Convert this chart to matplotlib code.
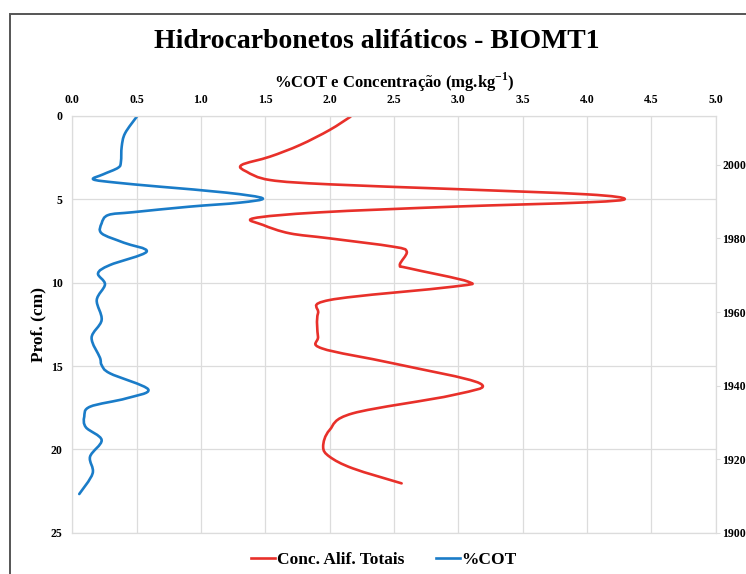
import numpy as np
import matplotlib.pyplot as plt
from matplotlib.patches import Rectangle, PathPatch
from matplotlib.path import Path
from matplotlib.lines import Line2D

plt.rcParams['font.family'] = ['Liberation Serif', 'DejaVu Serif']
plt.rcParams['font.weight'] = 'bold'
plt.rcParams['axes.labelweight'] = 'bold'
plt.rcParams['mathtext.fontset'] = 'custom'
plt.rcParams['mathtext.rm'] = 'Liberation Serif:bold'
plt.rcParams['mathtext.bf'] = 'Liberation Serif:bold'

# depth profile (cm) and %COT
cot_depth = [0.0, 1.04, 1.84, 2.74, 3.1, 3.5, 3.8, 4.0, 4.24, 4.6, 4.94, 5.2, 5.44,
             5.77, 5.94, 6.44, 7.04, 7.6, 8.14, 8.94, 9.44, 10.1, 11.04, 12.24,
             13.3, 14.5, 14.94, 15.44, 16.4, 16.94, 17.44, 18.04, 18.68, 19.44,
             20.44, 21.44, 22.68]
cot = [0.505, 0.41, 0.384, 0.378, 0.357, 0.24, 0.163, 0.345, 0.68, 1.2, 1.48, 1.3, 0.91,
       0.474, 0.28, 0.228, 0.228, 0.4, 0.578, 0.293, 0.2, 0.254, 0.19, 0.228,
       0.15, 0.215, 0.228, 0.293, 0.59, 0.42, 0.138, 0.093, 0.106, 0.228,
       0.138, 0.158, 0.054]

# depth profile (cm) and total aliphatic concentration (mg/kg)
alif_depth = [0.04, 0.84, 1.74, 2.44, 2.94, 3.34, 3.84, 4.1, 4.38, 4.7, 4.98, 5.18,
              5.44, 5.78, 6.14, 6.54, 7.04, 7.34, 7.84, 8.14, 8.94, 9.14, 9.94,
              10.24, 11.04, 11.84, 13.24, 13.94, 14.84, 16.04, 16.74, 17.84,
              18.84, 19.84, 20.44, 21.14, 22.04]
alif = [2.163, 2.0, 1.77, 1.536, 1.316, 1.355, 1.536, 2.0, 2.96, 4.0, 4.295, 4.0,
        2.96, 1.925, 1.407, 1.484, 1.69, 2.0, 2.494, 2.6, 2.546, 2.62, 3.077,
        2.96, 2.0, 1.91, 1.91, 1.94, 2.494, 3.168, 2.96, 2.18,
        2.0, 1.95, 2.0, 2.18, 2.56]

x_ticks = np.arange(0, 5.01, 0.5)
depth_ticks = [0, 5, 10, 15, 20, 25]
year_ticks = [1900, 1920, 1940, 1960, 1980, 2000]

red = '#e8302a'
blue = '#1a7cc8'
grid_c = '#dcdcdc'
lw = 1.9


def smooth_line(ax, xs, ys, color):
    # spreadsheet-style smoothed line: cubic Bezier segments through each point
    pts = np.column_stack([xs, ys]).astype(float)
    n = len(pts)
    verts = [pts[0]]
    codes = [Path.MOVETO]
    for i in range(n - 1):
        p0 = pts[i - 1] if i > 0 else pts[i]
        p1, p2 = pts[i], pts[i + 1]
        p3 = pts[i + 2] if i + 2 < n else p2
        verts += [p1 + (p2 - p0) / 6, p2 - (p3 - p1) / 6, p2]
        codes += [Path.CURVE4] * 3
    ax.add_patch(PathPatch(Path(verts, codes), fill=False, edgecolor=color,
                           lw=lw, capstyle='round', joinstyle='round'))


W, H = 746, 574
fig = plt.figure(figsize=(W / 100, H / 100), dpi=100)
ax = fig.add_axes([72.3 / W, 1 - 532.7 / H, (715.5 - 72.3) / W, (532.7 - 116) / H])

smooth_line(ax, alif, alif_depth, red)
smooth_line(ax, cot, cot_depth, blue)

ax.set_xlim(0, 5)
ax.set_ylim(25, 0)
ax.set_xticks(x_ticks)
ax.set_xticklabels([f'{v:.1f}' for v in x_ticks])
ax.set_yticks(depth_ticks)
ax.xaxis.tick_top()
ax.xaxis.set_label_position('top')
ax.tick_params(axis='both', length=0, labelsize=8.5, pad=7)
ax.grid(True, color=grid_c, lw=0.9)
ax.set_axisbelow(True)
for s in ax.spines.values():
    s.set_color(grid_c)
    s.set_linewidth(0.9)

ax.set_xlabel('%COT e Concentração (mg.kg$^{-1}$)', fontsize=12, fontweight='bold', labelpad=5)
ax.set_ylabel('Prof. (cm)', fontsize=12.5, fontweight='bold', labelpad=3)

# age scale on the right
ax2 = ax.twinx()
ax2.set_ylim(1900, 2013.3)
ax2.set_yticks(year_ticks)
ax2.tick_params(axis='y', length=3, color=grid_c, labelsize=8.5, pad=2)
for s in ax2.spines.values():
    s.set_visible(False)

fig.text(377 / W, 1 - 42 / H, 'Hidrocarbonetos alifáticos - BIOMT1',
         ha='center', va='center', fontsize=20)

handles = [Line2D([], [], color=red, lw=lw), Line2D([], [], color=blue, lw=lw)]
fig.legend(handles, ['Conc. Alif. Totais', '%COT'], loc='center',
           bbox_to_anchor=(384 / W, 1 - 560 / H), ncol=2, frameon=False,
           fontsize=12.5, handlelength=1.4, handletextpad=0.1, columnspacing=1.8)

# outer chart border
fig.patches.append(Rectangle((10 / W, -0.05), 1.2, 1 - 14 / H + 0.05,
                             transform=fig.transFigure, fill=False,
                             edgecolor='#555555', lw=1.4))

fig.savefig('out.png', dpi=100)
